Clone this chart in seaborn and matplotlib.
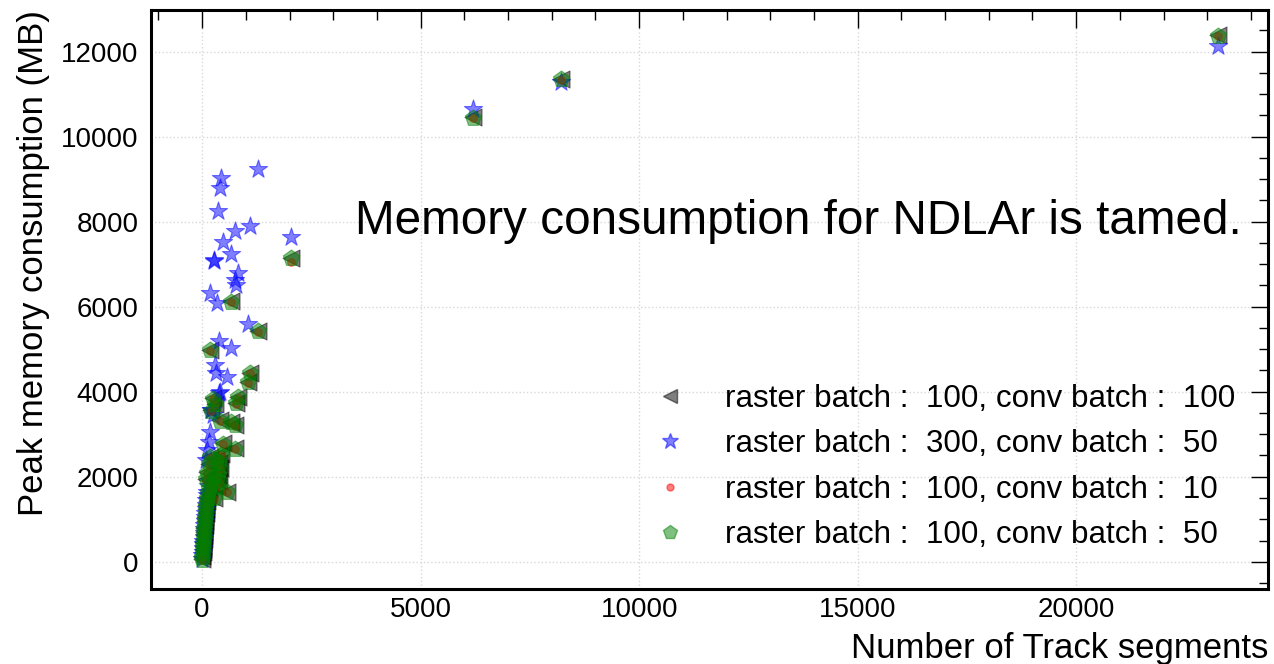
import numpy as np
import pandas as pd
import matplotlib
matplotlib.use("Agg")
import matplotlib.pyplot as plt
import seaborn as sns
from matplotlib.ticker import MultipleLocator
from matplotlib.lines import Line2D

# ---------------- data ----------------
track_segments = [23250, 8220, 6200, 2040, 1285, 1090, 1050, 820, 770, 750,
                  745, 650, 670, 560, 480, 440, 405, 400, 390, 385,
                  365, 330, 325, 290, 267, 262, 250, 215, 210, 176,
                  170, 160, 114, 100,
                  150, 135, 120, 105, 95, 88, 80, 72, 65, 58,
                  50, 45, 38, 33, 28, 22, 18, 12, 8, 3]

mem_r100_c100 = [12380, 11360, 10470, 7150, 5430, 4450, 4230, 3880, 3740, 3220,
                 2670, 6130, 3290, 1650, 2790, 2530, 3330, 2200, 2330, 1900,
                 2050, 1780, 2400, 3710, 2000, 1500, 3850, 1850, 3560, 4980,
                 2470, 2300, 2100, 1950,
                 1720, 1620, 1520, 1420, 1330, 1230, 1140, 1050, 960, 870,
                 790, 700, 620, 540, 460, 380, 300, 220, 130, 60]

mem_r300_c50 = [12140, 11290, 10650, 7630, 9240, 7900, 5590, 6800, 6510, 6630,
                7770, 7230, 5020, 4350, 7530, 9020, 8800, 4000, 5200, 3980,
                8240, 6090, 4430, 4630, 7100, 7080, 3450, 3570, 3560, 6330,
                3060, 2820, 2630, 2400,
                1900, 1780, 1650, 1560, 1450, 1340, 1250, 1150, 1050, 950,
                860, 770, 680, 590, 500, 420, 330, 240, 150, 70]

mem_r100_c10 = [12360, 11340, 10440, 7060, 5400, 4430, 4210, 3860, 3720, 3200,
                2650, 6110, 3270, 1630, 2770, 2510, 3310, 2180, 2310, 1880,
                2030, 1760, 2380, 3690, 1980, 1480, 3830, 1830, 3540, 4960,
                2450, 2280, 2080, 1930,
                1700, 1600, 1500, 1400, 1310, 1210, 1120, 1030, 940, 850,
                770, 680, 600, 520, 440, 360, 280, 200, 110, 40]

mem_r100_c50 = [12370, 11350, 10440, 7140, 5420, 4440, 4220, 3870, 3730, 3210,
                2660, 6120, 3280, 1640, 2780, 2520, 3320, 2190, 2320, 1890,
                2040, 1770, 2390, 3700, 1990, 1490, 3840, 1840, 3550, 4970,
                2460, 2290, 2090, 1940,
                1710, 1610, 1510, 1410, 1320, 1220, 1130, 1040, 950, 860,
                780, 690, 610, 530, 450, 370, 290, 210, 120, 50]

series_labels = ["raster batch :  100, conv batch :  100",
                 "raster batch :  300, conv batch :  50",
                 "raster batch :  100, conv batch :  10",
                 "raster batch :  100, conv batch :  50"]

x_ticks = [0, 5000, 10000, 15000, 20000]
y_ticks = [0, 2000, 4000, 6000, 8000, 10000, 12000]
x_label = "Number of Track segments"
y_label = "Peak memory consumption (MB)"
annotation = "Memory consumption for NDLAr is tamed."

# ---------------- style ----------------
sns.set_style("white")
plt.rcParams["font.family"] = ["Liberation Sans", "DejaVu Sans"]
plt.rcParams["text.color"] = "black"
plt.rcParams["axes.labelcolor"] = "black"
plt.rcParams["xtick.color"] = "black"
plt.rcParams["ytick.color"] = "black"

fig = plt.figure(figsize=(12.74, 6.64), dpi=100)
ax = fig.add_axes([0.1185, 0.113, 0.8768, 0.872])

df = pd.DataFrame({"x": track_segments,
                   "a": mem_r100_c100, "b": mem_r300_c50,
                   "c": mem_r100_c10, "d": mem_r100_c50})

specs = [("a", "<", "black", 150, series_labels[0]),
         ("b", "*", "blue", 190, series_labels[1]),
         ("c", "o", "red", 30, series_labels[2]),
         ("d", "p", "green", 150, series_labels[3])]

for col, mk, colr, s, lab in specs:
    sns.scatterplot(data=df, x="x", y=col, marker=mk, color=colr, s=s,
                    alpha=0.5, edgecolor=colr, linewidth=0.8, ax=ax,
                    label=lab, legend=False)

ax.set_xlim(-1170, 24390)
ax.set_ylim(-640, 12980)
ax.set_xticks(x_ticks)
ax.set_yticks(y_ticks)
ax.xaxis.set_minor_locator(MultipleLocator(1000))
ax.yaxis.set_minor_locator(MultipleLocator(500))

ax.grid(True, which="major", linestyle=":", color="#d8d8d8", linewidth=1.0)
ax.set_axisbelow(True)

for sp in ax.spines.values():
    sp.set_linewidth(2.2)
    sp.set_color("black")

ax.tick_params(which="both", direction="in", top=True, right=True,
               width=1.0, color="black")
ax.tick_params(axis="x", which="major", length=13, labelsize=20, pad=6)
ax.tick_params(axis="x", which="minor", length=7)
ax.tick_params(axis="y", which="major", length=12, labelsize=20, pad=9)
ax.tick_params(axis="y", which="minor", length=6.5)

ax.set_xlabel(x_label, loc="right", fontsize=25, labelpad=6)
ax.set_ylabel(y_label, loc="top", fontsize=25, labelpad=8)

ax.text(0.1826, 0.634, annotation, transform=ax.transAxes,
        fontsize=34.3, ha="left", va="center")

handles = [Line2D([], [], linestyle="none", marker=mk, color=colr, alpha=0.5,
                  markersize=(ms), markeredgecolor=colr)
           for (col, mk, colr, s, lab), ms in zip(specs, [10, 12, 5, 10])]
ax.legend(handles, series_labels, loc="lower right",
          bbox_to_anchor=(0.99, 0.029), frameon=False, fontsize=22.6,
          handletextpad=0.75, labelspacing=0.49, borderaxespad=0.3)

fig.savefig("out.png", dpi=100)
